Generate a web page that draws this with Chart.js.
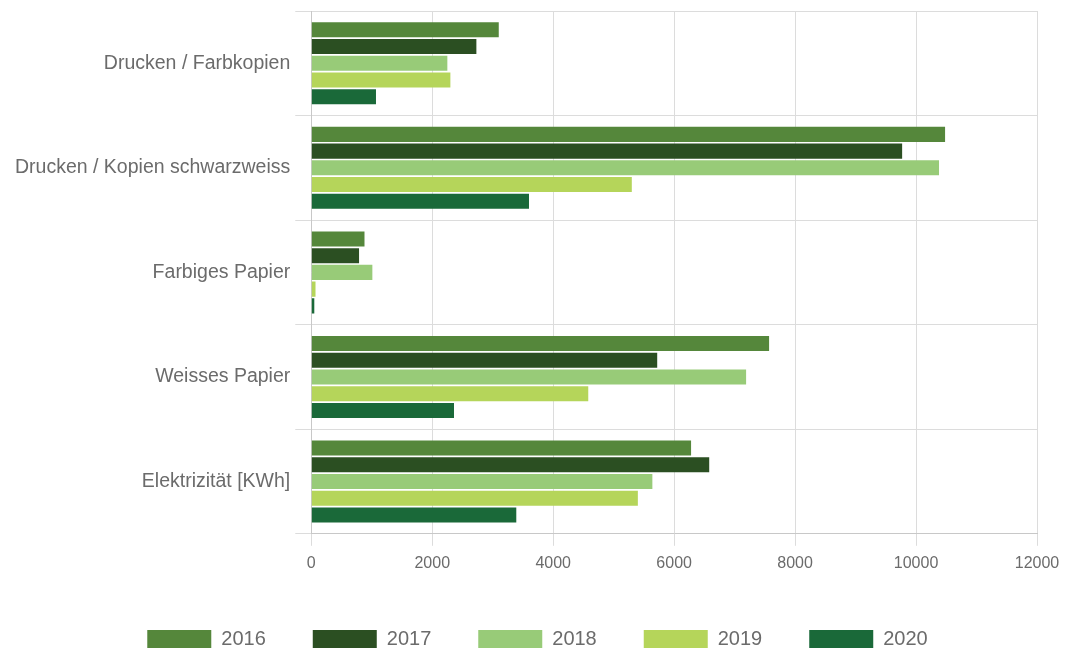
<!DOCTYPE html>
<html>
<head>
<meta charset="utf-8">
<script src="https://cdn.jsdelivr.net/npm/chart.js@4.4.1/dist/chart.umd.min.js"></script>
<style>
    html, body { margin: 0; padding: 0; background: #fff; }
    #wrap { width: 1068px; height: 650px; }
</style>
</head>
<body>
<div id="wrap"><canvas id="chart"></canvas></div>
<script>
// categories and values
const categories = [
    "Drucken / Farbkopien",
    "Drucken / Kopien schwarzweiss",
    "Farbiges Papier",
    "Weisses Papier",
    "Elektrizität [KWh]"
];
const years = ["2016", "2017", "2018", "2019", "2020"];
const values2016 = [3100, 10480, 880, 7570, 6280];
const values2017 = [2730, 9770, 790, 5720, 6580];
const values2018 = [2250, 10380, 1010, 7190, 5640];
const values2019 = [2300, 5300, 70, 4580, 5400];
const values2020 = [1070, 3600, 50, 2360, 3390];
const xTicks = [0, 2000, 4000, 6000, 8000, 10000, 12000];

const colors = ["#55873b", "#2b4f22", "#98cb78", "#b5d55a", "#1a6939"];
const allValues = [values2016, values2017, values2018, values2019, values2020];

const textGray = "#6b6b6b";
const gridGray = "#dcdcdc";
const fontFamily = "'Liberation Sans', Arial, sans-serif";

// legend gets a fixed height, then its items are nudged into place
const legendShift = {
    id: "legendShift",
    beforeInit(chart) {
        const fit = chart.legend.fit;
        chart.legend.fit = function () {
            fit.bind(chart.legend)();
            this.height = 69;
        };
    },
    afterLayout(chart) {
        chart.legend.top += 1;
        chart.legend.bottom += 1;
        chart.legend.left += 14;
        chart.legend.right += 14;
    }
};

const ctx = document.getElementById("chart").getContext("2d");
const chart = new Chart(ctx, {
    type: "bar",
    data: {
        labels: categories,
        datasets: years.map((year, i) => ({
            label: year,
            data: allValues[i],
            backgroundColor: colors[i],
            borderWidth: 0,
            categoryPercentage: 0.8,
            barPercentage: 0.9
        }))
    },
    options: {
        indexAxis: "y",
        responsive: true,
        maintainAspectRatio: false,
        animation: false,
        layout: { padding: { top: 11, right: 31, left: 10, bottom: 0 } },
        scales: {
            x: {
                min: 0,
                max: 12000,
                afterBuildTicks(axis) {
                    axis.ticks = xTicks.map(v => ({ value: v }));
                },
                grid: { color: gridGray, tickLength: 12, tickColor: gridGray },
                border: { color: "#c8c8c8" },
                ticks: {
                    color: textGray,
                    padding: 8,
                    callback: v => String(v),
                    font: { family: fontFamily, size: 16 }
                }
            },
            y: {
                afterFit(axis) {
                    axis.paddingTop = 0;
                    axis.paddingBottom = 0;
                },
                grid: { color: gridGray, tickLength: 16, tickColor: gridGray, offset: true },
                border: { color: "#c8c8c8" },
                ticks: {
                    color: textGray,
                    padding: 5,
                    font: { family: fontFamily, size: 19.5 }
                }
            }
        },
        plugins: {
            legend: {
                position: "bottom",
                labels: {
                    boxWidth: 64,
                    boxHeight: 18,
                    padding: 47,
                    color: textGray,
                    font: { family: fontFamily, size: 20 }
                }
            },
            tooltip: { enabled: false }
        }
    },
    plugins: [legendShift]
});
</script>
</body>
</html>
